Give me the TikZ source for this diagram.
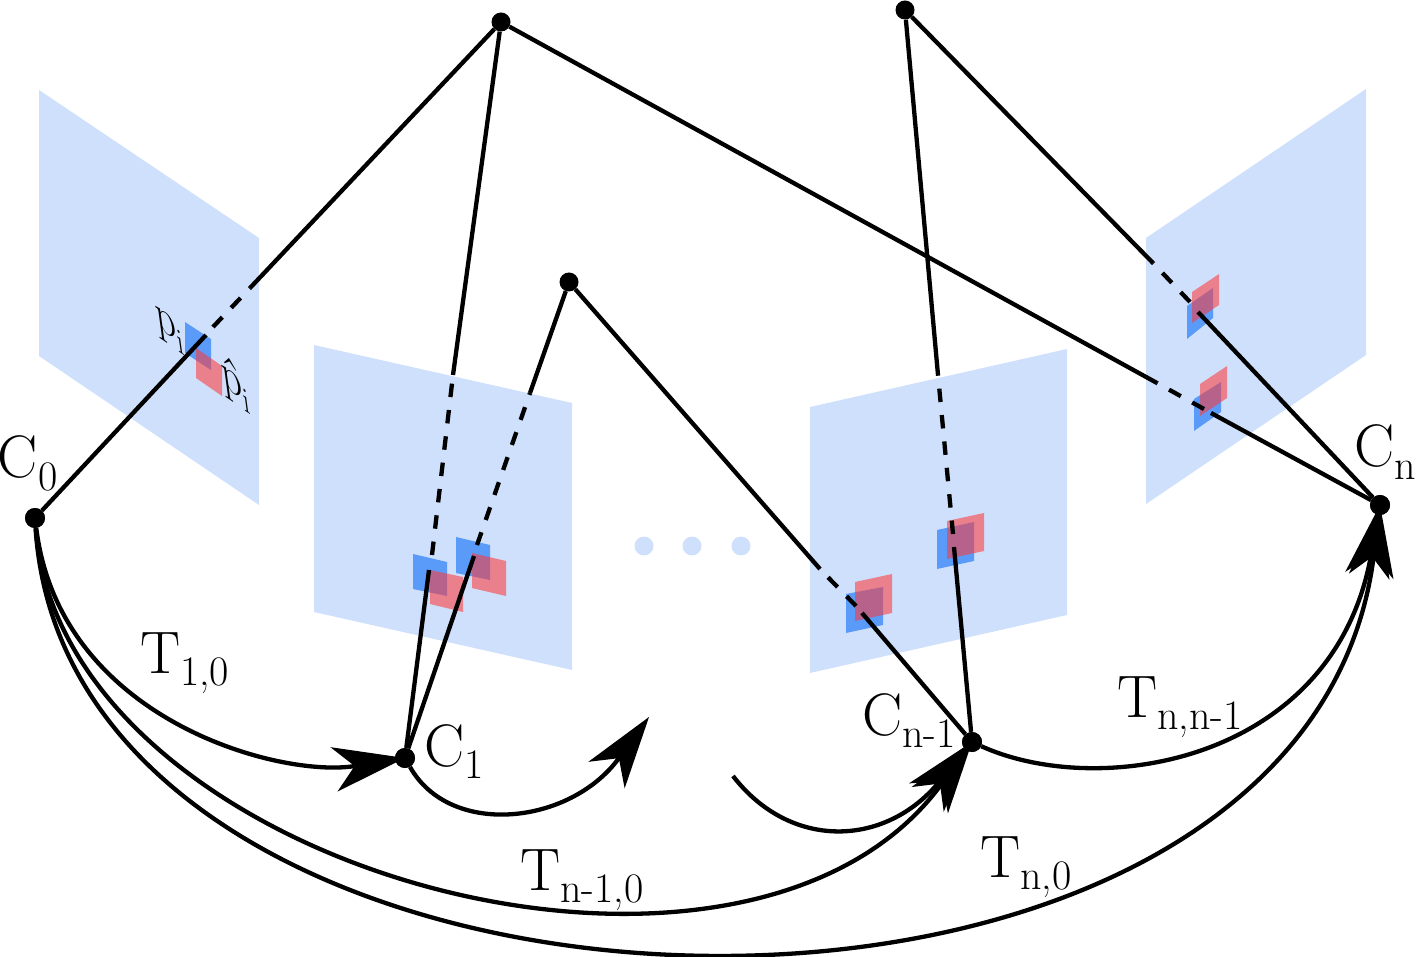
\documentclass[tikz,border=0pt]{standalone}
\usepackage{fontspec}
\usetikzlibrary{arrows.meta}
\definecolor{planec}{RGB}{207,224,252}
\definecolor{bluec}{RGB}{90,155,250}
\definecolor{pinkc}{RGB}{255,56,56}
\newcommand{\biglab}[2]{{\fontsize{60}{60}\selectfont #1}\raisebox{-12.5pt}{\fontsize{42}{42}\selectfont #2}}
\newcommand{\smalllab}[2]{{\fontsize{47}{47}\selectfont #1}\raisebox{-9pt}{\fontsize{33}{33}\selectfont #2}}
\tikzset{
  plane/.style={fill=planec,draw=none},
  bluepatch/.style={fill=bluec,draw=none},
  pinkpatch/.style={fill=pinkc,fill opacity=.57,draw=none},
  ray/.style={line width=4.3pt},
  hidden/.style={line width=4.3pt,dash pattern=on 13.5pt off 13pt},
  pt/.style={circle,fill=black,inner sep=0pt,minimum size=20pt},
  far/.style={circle,fill=planec,inner sep=0pt,minimum size=19pt},
  lab/.style={anchor=base west,inner sep=0pt,outer sep=0pt},
  skewlab/.style={lab,yslant=-.68,xslant=-.15,xscale=.85},
  motion/.style={line width=4.3pt,-{Stealth[length=72pt,width=45pt,inset=21pt,line width=0pt]}}
}
\begin{document}
\begin{tikzpicture}[x=1pt,y=-1pt]
\useasboundingbox (0,0) rectangle (1417,957);
% planes
\fill[plane] (39,90) -- (259,238) -- (259,505) -- (39,356) -- cycle;
\fill[plane] (314,345) -- (572,403) -- (572,670) -- (314,612) -- cycle;
\fill[plane] (810,407) -- (1067,349) -- (1067,615) -- (810,673) -- cycle;
\fill[plane] (1146,238) -- (1366,89) -- (1366,355) -- (1146,504) -- cycle;
% patches
\fill[bluepatch] (185,322) -- (211,339) -- (211,370) -- (185,353) -- cycle;
\fill[pinkpatch] (196,348) -- (222,366) -- (222,396) -- (196,378) -- cycle;
\fill[bluepatch] (413,554) -- (447,562) -- (447,596) -- (413,589) -- cycle;
\fill[pinkpatch] (430,570) -- (463,577) -- (463,612) -- (430,604) -- cycle;
\fill[bluepatch] (456,537) -- (490,545) -- (490,580) -- (456,573) -- cycle;
\fill[pinkpatch] (472,553) -- (506,561) -- (506,596) -- (472,588) -- cycle;
\fill[bluepatch] (846,594) -- (883,587) -- (883,625) -- (846,633) -- cycle;
\fill[pinkpatch] (855,582) -- (892,574) -- (892,613) -- (855,621) -- cycle;
\fill[bluepatch] (937,530) -- (974,522) -- (974,561) -- (937,569) -- cycle;
\fill[pinkpatch] (947,521) -- (984,513) -- (984,551) -- (947,559) -- cycle;
\fill[bluepatch] (1187,306) -- (1213,288) -- (1213,318) -- (1187,339) -- cycle;
\fill[pinkpatch] (1192,292) -- (1219,274) -- (1219,305) -- (1192,323) -- cycle;
\fill[bluepatch] (1194,399) -- (1221,382) -- (1221,412) -- (1194,431) -- cycle;
\fill[pinkpatch] (1200,384) -- (1227,366) -- (1227,398) -- (1200,416) -- cycle;
% points
\node[pt] (C0) at (35,518) {};
\node[pt] (C1) at (405,758) {};
\node[pt] (Cm) at (972,742) {};
\node[pt] (Cn) at (1380,505) {};
\node[pt,minimum size=19pt] (A) at (501,22) {};
\node[pt,minimum size=19pt] (B) at (569,282) {};
\node[pt,minimum size=19pt] (D) at (905,10) {};
\node[far] (d1) at (644,546) {};
\node[far] (d2) at (692,546) {};
\node[far] (d3) at (741,546) {};
% breaks on the rays
\coordinate (a1) at (206,335); \coordinate (a2) at (213,327); \coordinate (a3) at (250,288);
\coordinate (b1) at (429,570); \coordinate (b2) at (432,555); \coordinate (b3) at (453,375);
\coordinate (c1) at (474,556); \coordinate (c2) at (477,545); \coordinate (c3) at (530,393);
\coordinate (e1) at (862,613); \coordinate (e2) at (856,606); \coordinate (e3) at (820,569);
\coordinate (f1) at (954,547); \coordinate (f2) at (953,534); \coordinate (f3) at (938,375);
\coordinate (g1) at (1211,413); \coordinate (g2) at (1204,409); \coordinate (g3) at (1157,383);
\coordinate (h1) at (1198,312); \coordinate (h2) at (1190,302); \coordinate (h3) at (1153,263);
% rays
\draw[ray] (C0) -- (a1); \draw[hidden] (a2) -- (a3); \draw[ray] (a3) -- (A);
\draw[ray] (C1) -- (b1); \draw[hidden] (b2) -- (b3); \draw[ray] (b3) -- (A);
\draw[ray] (C1) -- (c1); \draw[hidden] (c2) -- (c3); \draw[ray] (c3) -- (B);
\draw[ray] (Cm) -- (e1); \draw[hidden] (e2) -- (e3); \draw[ray] (e3) -- (B);
\draw[ray] (Cm) -- (f1); \draw[hidden] (f2) -- (f3); \draw[ray] (f3) -- (D);
\draw[ray] (Cn) -- (g1); \draw[hidden] (g2) -- (g3); \draw[ray] (g3) -- (A);
\draw[ray] (Cn) -- (h1); \draw[hidden] (h2) -- (h3); \draw[ray] (h3) -- (D);
% motions
\coordinate (u1) at (649,717);
\coordinate (u2) at (733,776);
\draw[motion] (C0) .. controls (60,720) and (280,778) .. (C1.center);
\draw[motion] (C1) .. controls (450,838) and (570,825) .. (u1);
\draw[motion] (u2) .. controls (790,850) and (885,848) .. (Cm.center);
\draw[motion] (Cm) .. controls (1100,800) and (1334,762) .. (Cn.center);
\draw[motion] (C0) .. controls (60,870) and (745,1055) .. (Cm.center);
\draw[motion] (C0) .. controls (70,1075) and (1305,1112) .. (Cn.center);
% redraw points on top
\node[pt] at (C0) {}; \node[pt] at (C1) {}; \node[pt] at (Cm) {}; \node[pt] at (Cn) {};
% labels
\node[lab] (l0) at (-2,478) {\biglab{C}{0}};
\node[lab] (l1) at (424.5,766) {\biglab{C}{1}};
\node[lab] (l2) at (862,735) {\biglab{C}{n-1}};
\node[lab] (l3) at (1354,467) {\biglab{C}{n}};
\node[lab] (t1) at (140,673) {\biglab{T}{1,0}};
\node[lab] (t2) at (520,890) {\biglab{T}{n-1,0}};
\node[lab] (t3) at (980,877) {\biglab{T}{n,0}};
\node[lab] (t4) at (1117,717) {\biglab{T}{n,n-1}};
\node[skewlab] (p) at (157,328) {\smalllab{p}{i}};
\node[skewlab] (q) at (223,387) {\smalllab{\^p}{i}};
\end{tikzpicture}
\end{document}
